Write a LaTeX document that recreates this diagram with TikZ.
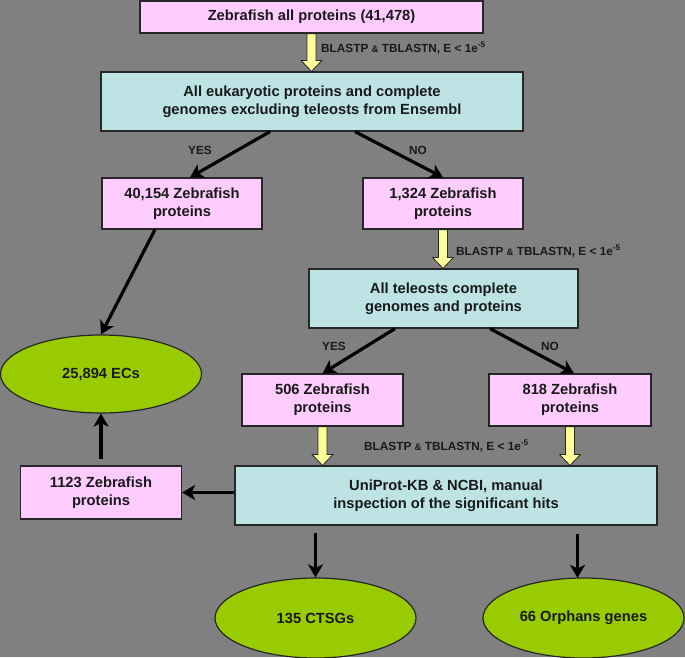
\documentclass[tikz,border=0pt]{standalone}
\usepackage{fontspec}
\setmainfont{Liberation Sans}
\usetikzlibrary{calc,arrows.meta,shapes.geometric}
\definecolor{bg}{HTML}{808080}
\definecolor{pinkbox}{HTML}{FFCCFF}
\definecolor{cyanbox}{HTML}{BDE3E5}
\definecolor{greenell}{HTML}{99CC00}
\definecolor{yelarr}{HTML}{FFFF99}
\definecolor{edge}{HTML}{262626}
\newcommand{\yarrow}[2]{%
  \path let \p1=(#1.south), \p2=(#2.north) in
    [draw=edge, fill=yelarr, line width=0.8pt, line join=miter]
    (\x1-4.5pt,\y1) -- (\x1+4.5pt,\y1) -- (\x1+4.5pt,\y2+11pt) -- (\x1+10.5pt,\y2+11pt)
    -- (\x1,\y2) -- (\x1-10.5pt,\y2+11pt) -- (\x1-4.5pt,\y2+11pt) -- cycle;}
\begin{document}
\begin{tikzpicture}[x=1pt,y=-1pt,
  every node/.style={font=\bfseries\fontsize{14.7}{18}\selectfont, text=black!90, align=center, inner sep=0pt},
  pbox/.style={draw=edge, line width=1.2pt, fill=pinkbox},
  cbox/.style={draw=edge, line width=1.2pt, fill=cyanbox},
  gell/.style={draw=edge, line width=1.2pt, fill=greenell, ellipse},
  lbl/.style={font=\bfseries\fontsize{11.8}{13}\selectfont},
  arr/.style={draw=black, line width=3.2pt, -{Stealth[length=13pt,width=15pt,inset=3.5pt]}}
]
\useasboundingbox (0,0) rectangle (685,657);
\fill[bg] (0,0) rectangle (685,657);

\node[pbox, minimum width=343, minimum height=32] (top) at (311.5,17) {Zebrafish all proteins (41,478)};
\node[cbox, minimum width=422, minimum height=59] (euk) at (312,101.5) {All eukaryotic proteins and complete\\genomes excluding teleosts from Ensembl};
\node[pbox, minimum width=160, minimum height=51] (p40) at (182,203.5) {40,154 Zebrafish\\proteins};
\node[pbox, minimum width=160, minimum height=51] (p13) at (443,203.5) {1,324 Zebrafish\\proteins};
\node[cbox, minimum width=269, minimum height=59] (tele) at (443.5,298.5) {All teleosts complete\\genomes and proteins};
\node[pbox, minimum width=161, minimum height=52] (p506) at (322.5,400) {506 Zebrafish\\proteins};
\node[pbox, minimum width=162, minimum height=52] (p818) at (570,400) {818 Zebrafish\\proteins};
\node[cbox, minimum width=422, minimum height=59] (uni) at (446,495.5) {UniProt-KB \& NCBI, manual\\inspection of the significant hits};
\node[pbox, minimum width=161, minimum height=53] (p1123) at (101,492.5) {1123 Zebrafish\\proteins};
\node[gell, minimum width=201, minimum height=78] (ec) at (101,374) {25,894 ECs};
\node[gell, minimum width=201, minimum height=80] (ctsg) at (315.5,618) {135 CTSGs};
\node[gell, minimum width=201, minimum height=80] (orph) at (583.5,618) {66 Orphans genes};

% yellow block arrows
\yarrow{top}{euk}
\yarrow{p13}{tele}
\yarrow{p506}{uni}
\yarrow{p818}{uni}

% labels
\node[lbl, anchor=west] (l1) at (321,48) {BLASTP {\fontsize{9.5}{11}\selectfont\&} TBLASTN, E < 1e\textsuperscript{-5}};
\node[lbl, anchor=west] (l2) at (456,251) {BLASTP {\fontsize{9.5}{11}\selectfont\&} TBLASTN, E < 1e\textsuperscript{-5}};
\node[lbl, anchor=west] (l3) at (364,446) {BLASTP {\fontsize{9.5}{11}\selectfont\&} TBLASTN, E < 1e\textsuperscript{-5}};
\node[lbl] (y1) at (200,150) {YES};
\node[lbl] (n1) at (418,150) {NO};
\node[lbl] (y2) at (334,346) {YES};
\node[lbl] (n2) at (550,346) {NO};

% black arrows
\draw[arr] ($(euk.south)+(-42,0)$) -- ($(p40.north)+(8,0)$);
\draw[arr] ($(euk.south)+(43,0)$) -- (p13.north);
\draw[arr] ($(p40.south)+(-27,0)$) -- (ec.north);
\draw[arr] ($(tele.south)+(-48.5,0)$) -- (p506.north);
\draw[arr] ($(tele.south)+(46.5,0)$) -- ($(p818.north)+(4,0)$);
\draw[arr] (p1123.east -| uni.west) -- (p1123.east);
\draw[arr] ($(p1123.north)+(0,-6)$) -- (ec.south);
\draw[arr] ($(ctsg.north |- uni.south)+(0,7)$) -- (ctsg.north);
\coordinate (oend) at ($(orph.north)+(-6,0.5)$);
\draw[arr] ($(oend |- uni.south)+(0,8)$) -- (oend);
\end{tikzpicture}
\end{document}
